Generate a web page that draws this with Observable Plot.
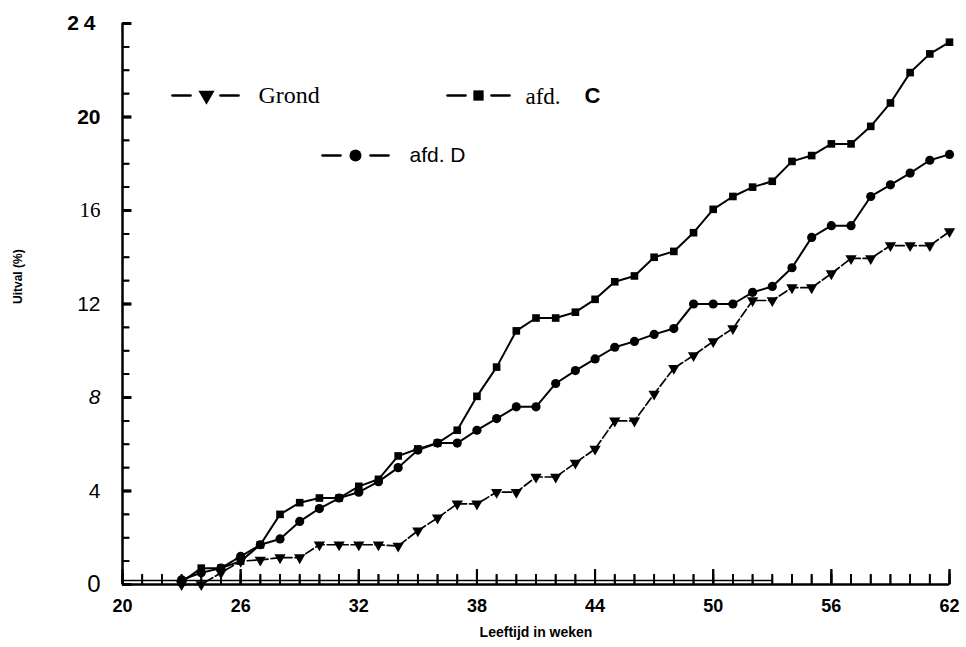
<!DOCTYPE html>
<html>
<head>
<meta charset="utf-8">
<script src="https://cdn.jsdelivr.net/npm/d3@7"></script>
<script src="https://cdn.jsdelivr.net/npm/@observablehq/plot@0.6"></script>
<style>
  html, body { margin: 0; padding: 0; background: #fff; }
  #chart { width: 966px; height: 647px; }
</style>
</head>
<body>
<div id="chart"></div>
<script>
// Age in weeks
const weeks = [23,24,25,26,27,28,29,30,31,32,33,34,35,36,37,38,39,40,41,42,
               43,44,45,46,47,48,49,50,51,52,53,54,55,56,57,58,59,60,61,62];
// Uitval (%) per series
const grond = [0,0,0.5,1.0,1.05,1.15,1.15,1.7,1.7,1.7,1.7,1.65,2.3,2.85,3.45,3.45,3.95,3.95,4.6,4.6,
               5.2,5.8,7.0,7.0,8.15,9.25,9.8,10.4,10.95,12.15,12.15,12.7,12.7,13.3,13.95,13.95,14.5,14.5,14.5,15.1];
const afdC  = [0.1,0.7,0.7,1.0,1.7,3.0,3.5,3.7,3.7,4.2,4.5,5.5,5.8,6.05,6.6,8.05,9.3,10.85,11.4,11.4,
               11.65,12.2,12.95,13.2,14.0,14.25,15.05,16.05,16.6,17.0,17.25,18.1,18.35,18.85,18.85,19.6,20.6,21.9,22.7,23.2];
const afdD  = [0.2,0.5,0.7,1.2,1.7,1.95,2.7,3.25,3.7,3.95,4.4,5.0,5.75,6.05,6.05,6.6,7.1,7.6,7.6,8.6,
               9.15,9.65,10.15,10.4,10.7,10.95,12.0,12.0,12.0,12.5,12.75,13.55,14.85,15.35,15.35,16.6,17.1,17.6,18.15,18.4];

const xTickLabels = [20,26,32,38,44,50,56,62];
const xMinorTicks = [20,21,22,23,24,25,26,27,28,29,30,31,32,33,34,35,36,37,38,39,40,41,
                     42,43,44,45,46,47,48,49,50,51,52,53,54,55,56,57,58,59,60,61,62];
const yTickLabels = [0,4,8,12,16,20,24];
const yMinorTicks = [0,1,2,3,4,5,6,7,8,9,10,11,12,13,14,15,16,17,18,19,20,21,22,23,24];

const rowsG = weeks.map((w, i) => ({week: w, value: grond[i]}));
const rowsC = weeks.map((w, i) => ({week: w, value: afdC[i]}));
const rowsD = weeks.map((w, i) => ({week: w, value: afdD[i]}));

const sans = "'Liberation Sans', Arial, sans-serif";
const serif = "'Liberation Serif', 'DejaVu Serif', serif";

// plain straight stroke shapes (legend dashes and inward ticks)
const stroke = {draw(context, l) { context.moveTo(0, 0); context.lineTo(0, -l); }};
const tickRight = (len) => ({draw(context) { context.moveTo(0, 0); context.lineTo(len, 0); }});
const tickUp = (len) => ({draw(context) { context.moveTo(0, 0); context.lineTo(0, -len); }});

const legendDash = (dx, dy) => Plot.vector([0], {
  frameAnchor: "top-left", dx, dy, length: 18, rotate: 90, anchor: "middle",
  shape: stroke, strokeWidth: 2.6, stroke: "#000"
});

const plot = Plot.plot({
  width: 966,
  height: 647,
  marginLeft: 122,
  marginRight: 17,
  marginTop: 23,
  marginBottom: 63,
  style: {fontFamily: sans, color: "#000", background: "#fff"},
  x: {domain: [20, 62], label: null},
  y: {domain: [0, 24], label: null},
  marks: [
    // axis lines
    Plot.ruleX([20], {strokeWidth: 2.5}),
    Plot.ruleY([0], {strokeWidth: 2.5}),
    Plot.ruleY([0], {x1: 20, x2: 53, dy: -4, strokeWidth: 1.3}),
    // tick labels
    Plot.axisY({ticks: yTickLabels, tickSize: 0, tickPadding: 22, fontSize: 21}),
    Plot.axisX({ticks: xTickLabels, tickSize: 0, tickPadding: 15, fontSize: 18, fontWeight: "bold"}),
    // axis titles
    Plot.text(["Uitval (%)"], {frameAnchor: "left", dx: -104, rotate: -90, fontSize: 12, fontWeight: "bold"}),
    Plot.text(["Leeftijd in weken"], {frameAnchor: "bottom", lineAnchor: "middle", dx: 0, dy: 48, fontSize: 14, fontWeight: "bold"}),
    // series lines
    Plot.line(rowsG, {x: "week", y: "value", stroke: "#000", strokeWidth: 1.7, strokeDasharray: "9,3"}),
    Plot.line(rowsC, {x: "week", y: "value", stroke: "#000", strokeWidth: 2}),
    Plot.line(rowsD, {x: "week", y: "value", stroke: "#000", strokeWidth: 2}),
    // markers
    Plot.dot(rowsG, {x: "week", y: "value", symbol: "triangle", rotate: 180, r: 4.2, fill: "#000"}),
    Plot.dot(rowsC, {x: "week", y: "value", symbol: "square", r: 4.3, fill: "#000"}),
    Plot.dot(rowsD, {x: "week", y: "value", symbol: "circle", r: 4.6, fill: "#000"}),
    // legend: Grond
    legendDash(59, 72),
    Plot.dot(["Grond"], {frameAnchor: "top-left", dx: 84, dy: 72, symbol: "triangle", rotate: 180, r: 6, fill: "#000"}),
    legendDash(107, 72),
    Plot.text(["Grond"], {frameAnchor: "top-left", lineAnchor: "middle", dx: 136, dy: 72, textAnchor: "start", fontSize: 24, fontFamily: serif}),
    // legend: afd. C
    legendDash(334, 72),
    Plot.dot(["afd. C"], {frameAnchor: "top-left", dx: 356, dy: 72, symbol: "square", r: 5.8, fill: "#000"}),
    legendDash(378, 72),
    Plot.text(["afd."], {frameAnchor: "top-left", lineAnchor: "middle", dx: 403, dy: 73, textAnchor: "start", fontSize: 23, fontFamily: serif}),
    Plot.text(["C"], {frameAnchor: "top-left", lineAnchor: "middle", dx: 462, dy: 72, textAnchor: "start", fontSize: 22, fontWeight: "bold"}),
    // legend: afd. D
    legendDash(209, 132),
    Plot.dot(["afd. D"], {frameAnchor: "top-left", dx: 233, dy: 132, symbol: "circle", r: 6, fill: "#000"}),
    legendDash(257, 132),
    Plot.text(["afd. D"], {frameAnchor: "top-left", lineAnchor: "middle", dx: 287, dy: 132, textAnchor: "start", fontSize: 21}),
    // inward ticks as rules
    Plot.ruleY(yMinorTicks, {y: d => d, x1: 20, x2: 20, insetRight: -7, strokeWidth: 1.8}),
    Plot.ruleY(yTickLabels, {y: d => d, x1: 20, x2: 20, insetRight: -9, strokeWidth: 2.8}),
    Plot.ruleX(xMinorTicks, {x: d => d, y1: 0, y2: 0, insetTop: -10, strokeWidth: 1.8}),
    Plot.ruleX(xTickLabels, {x: d => d, y1: 0, y2: 0, insetTop: -15, strokeWidth: 2}),
    // the same inward ticks as custom-symbol dots anchored to the frame edges
    Plot.dot(yMinorTicks, {y: d => d, frameAnchor: "left", symbol: tickRight(7), fill: "none", stroke: "#000", strokeWidth: 1.8}),
    Plot.dot(yTickLabels, {y: d => d, frameAnchor: "left", symbol: tickRight(9), fill: "none", stroke: "#000", strokeWidth: 2.8}),
    Plot.dot(xMinorTicks, {x: d => d, frameAnchor: "bottom", symbol: tickUp(10), fill: "none", stroke: "#000", strokeWidth: 1.8}),
    Plot.dot(xTickLabels, {x: d => d, frameAnchor: "bottom", symbol: tickUp(15), fill: "none", stroke: "#000", strokeWidth: 2})
  ]
});

// tick-label typography as in the scanned original
d3.select(plot).selectAll("[aria-label='y-axis tick label'] text").each(function() {
  const t = this.textContent.trim();
  const s = d3.select(this);
  if (t === "24") s.style("font-weight", "bold").style("letter-spacing", "5px");
  if (t === "20") s.style("font-weight", "bold");
  if (t === "16") s.style("font-family", serif);
  if (t === "8") s.style("font-style", "italic");
  if (t === "0") s.style("font-size", "24px");
});

document.getElementById("chart").appendChild(plot);
</script>
</body>
</html>
